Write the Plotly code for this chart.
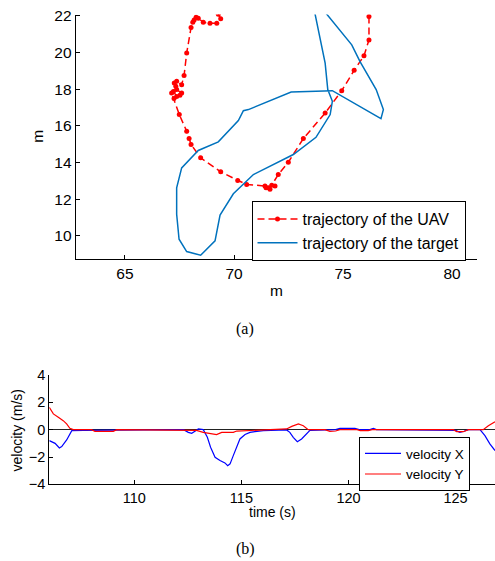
import plotly.graph_objects as go

# ---- (a) trajectories ----
uav_x = [76.19, 76.19, 75.96, 75.51, 74.94, 74.18, 73.18, 72.49, 72.03, 71.73, 71.88, 71.65, 71.47,
         71.58, 71.42, 70.58, 70.17, 69.39, 68.47, 68.03, 67.94, 67.83, 67.49, 67.25, 67.14, 67.22,
         67.37, 67.52, 67.60, 67.37, 67.33, 67.26, 67.37, 67.60, 67.71, 67.83, 68.03, 68.11, 68.17,
         68.26, 68.36, 68.59, 68.90, 69.21, 69.39, 69.28]
uav_y = [21.96, 20.69, 19.82, 19.03, 17.92, 16.70, 15.31, 14.02, 13.35, 12.77, 12.72, 12.54, 12.63,
         12.63, 12.72, 12.81, 13.03, 13.50, 14.26, 14.99, 15.31, 15.71, 16.62, 17.49, 17.79, 17.88,
         17.61, 17.67, 17.79, 17.98, 18.16, 18.34, 18.43, 18.25, 18.75, 19.97, 21.36, 21.65, 21.78,
         21.92, 21.87, 21.65, 21.60, 21.60, 21.84, 22.09]

tgt_x = [73.70, 74.18, 74.30, 74.51, 74.41, 73.76, 72.72, 71.65, 70.89, 69.97, 69.36, 69.13, 68.47,
         67.83, 67.48, 67.37, 67.37, 67.60, 68.36, 69.28, 70.20, 70.43, 70.66, 72.62, 74.51, 76.74,
         76.85, 76.52, 75.78, 75.40, 74.18]
tgt_y = [22.20, 19.42, 17.98, 17.34, 16.62, 15.38, 14.44, 13.81, 13.35, 12.30, 11.14, 9.73, 8.95,
         9.15, 9.82, 11.18, 12.63, 13.71, 14.66, 15.13, 16.29, 16.83, 16.89, 17.85, 17.92, 16.40,
         16.89, 17.98, 19.51, 20.42, 22.20]

# ---- (b) velocities ----
t_vx = [106.03, 106.3, 106.5, 106.61, 106.84, 107.08, 107.62, 112.3, 112.52, 112.68, 112.83, 112.99,
        113.22, 113.41, 113.56, 113.77, 114.0, 114.23, 114.36, 114.47, 114.62, 114.78, 114.93, 115.17,
        115.4, 115.63, 116.02, 117.11, 117.26, 117.42, 117.61, 117.81, 118.05, 118.2, 119.4, 119.6,
        120.0, 120.3, 120.5, 121.0, 121.16, 121.3, 125.0, 125.2, 125.39, 125.6, 126.14, 126.37,
        126.6, 126.84]
vx = [-0.8, -1.0, -1.34, -1.24, -0.75, -0.07, -0.05, 0.0, -0.2, -0.27, -0.12, 0.05, 0.0, -0.56, -1.29,
      -2.02, -2.26, -2.43, -2.63, -2.5, -1.9, -1.29, -0.68, -0.35, -0.2, -0.15, -0.07, -0.02, -0.2,
      -0.56, -0.88, -0.68, -0.32, -0.05, 0.0, 0.1, 0.1, 0.1, 0.0, 0.0, 0.1, 0.0, -0.05, -0.2, -0.12,
      0.0, 0.0, -0.44, -1.04, -1.53]

t_vy = [106.03, 106.22, 106.45, 106.68, 106.84, 106.99, 107.15, 108.0, 108.16, 109.02, 109.18, 112.9,
        113.22, 113.69, 113.84, 114.08, 114.62, 114.78, 115.2, 115.86, 117.11, 117.35, 117.66, 117.89,
        118.12, 118.9, 119.13, 119.4, 119.6, 120.4, 120.55, 120.92, 121.1, 124.9, 125.05, 125.36,
        125.6, 126.29, 126.53, 126.84]
vy = [1.63, 1.15, 0.9, 0.66, 0.42, 0.1, 0.0, 0.0, -0.12, -0.12, 0.0, -0.05, -0.2, -0.36, -0.36, -0.2,
      -0.2, -0.1, -0.07, -0.02, 0.05, 0.24, 0.42, 0.29, 0.0, 0.0, -0.12, -0.1, 0.0, 0.0, -0.07, -0.07,
      0.0, 0.0, -0.15, -0.15, 0.0, 0.0, 0.29, 0.58]

xa_ticks = [65, 70, 75, 80]
ya_ticks = [10, 12, 14, 16, 18, 20, 22]
xb_ticks = [110, 115, 120, 125]
yb_ticks = [-4, -2, 0, 2, 4]

W, H = 495, 561
SANS = "Liberation Sans, Arial, Helvetica, sans-serif"
SERIF = "Liberation Serif, Times New Roman, serif"

fig = go.Figure()
fig.add_trace(go.Scatter(x=uav_x, y=uav_y, mode="lines+markers", name="trajectory of the UAV",
                         line=dict(color="#ff0000", width=1.5, dash="7px,4px"),
                         marker=dict(color="#ff0000", size=5), xaxis="x", yaxis="y", legend="legend"))
fig.add_trace(go.Scatter(x=tgt_x, y=tgt_y, mode="lines", name="trajectory of the target",
                         line=dict(color="#0072BD", width=1.5), xaxis="x", yaxis="y", legend="legend"))
fig.add_trace(go.Scatter(x=t_vx, y=vx, mode="lines", name="velocity X",
                         line=dict(color="#0000ff", width=1.2), xaxis="x2", yaxis="y2", legend="legend2"))
fig.add_trace(go.Scatter(x=t_vy, y=vy, mode="lines", name="velocity Y",
                         line=dict(color="#ff0000", width=1.2), xaxis="x2", yaxis="y2", legend="legend2"))


def px_x(p):
    return p / W


def px_y(p):
    # compensate for the vertical squeeze observed in the rendered picture
    q = (p - 6.4) / 0.974
    return (H - q) / H


def axis_style(size):
    return dict(showline=True, linecolor="black", linewidth=1, ticks="inside", ticklen=4,
                tickcolor="black", showgrid=False, mirror=False,
                tickfont=dict(family=SANS, size=size, color="black"))


def label(text, x, y, size, family=SANS, angle=0):
    return dict(text=text, x=px_x(x), y=px_y(y), xref="paper", yref="paper", showarrow=False,
                xanchor="center", yanchor="middle", textangle=angle,
                font=dict(family=family, size=size, color="black"))


fig.update_layout(
    width=W, height=H, autosize=False,
    margin=dict(l=0, r=0, t=0, b=0),
    paper_bgcolor="white", plot_bgcolor="white",
    font=dict(family=SANS, size=14, color="black"),
    xaxis=dict(domain=[px_x(75.7), px_x(476.7)], range=[62.74, 81.13], tickvals=xa_ticks,
               zeroline=False, anchor="y", **axis_style(15.5)),
    yaxis=dict(domain=[px_y(258.3), px_y(13)], range=[8.73, 22.07], tickvals=ya_ticks,
               zeroline=False, anchor="x", **axis_style(15.5)),
    xaxis2=dict(domain=[px_x(49.3), 1.0], range=[106.03, 126.84], tickvals=xb_ticks,
                zeroline=False, anchor="y2", **axis_style(14.5)),
    yaxis2=dict(domain=[px_y(484), px_y(374.3)], range=[-4, 4], tickvals=yb_ticks,
                zeroline=True, zerolinecolor="#222222", zerolinewidth=1.2, anchor="x2",
                **axis_style(14.5)),
    legend=dict(x=px_x(465.5), y=px_y(200), xanchor="right", yanchor="top",
                bordercolor="black", borderwidth=1, bgcolor="white",
                font=dict(family=SANS, size=16), itemwidth=40, tracegroupgap=0),
    legend2=dict(x=px_x(470), y=px_y(436.7), xanchor="right", yanchor="top",
                 bordercolor="black", borderwidth=1, bgcolor="white",
                 font=dict(family=SANS, size=13.5), itemwidth=36, tracegroupgap=0),
    annotations=[
        label("m", 38, 135.6, 15.5, angle=-90),
        label("m", 276, 290, 15.5),
        label("velocity (m/s)", 17, 430, 14, angle=-90),
        label("time (s)", 272, 511.5, 14),
        label("(a)", 245, 328, 16, family=SERIF),
        label("(b)", 245, 549, 16, family=SERIF),
    ],
)

fig.write_html("out.html", config={"displayModeBar": False},
               post_script="document.body.style.margin='0';")
